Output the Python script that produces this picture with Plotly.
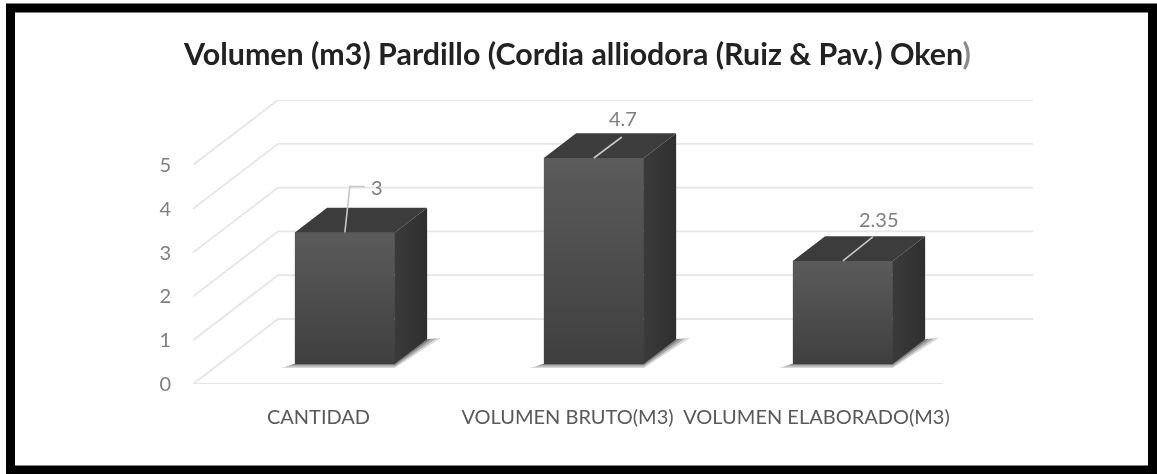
import plotly.graph_objects as go

# ---- data ----
categories = ["CANTIDAD", "VOLUMEN BRUTO(M3)", "VOLUMEN ELABORADO(M3)"]
values = [3, 4.7, 2.35]
value_labels = ["3", "4.7", "2.35"]
y_ticks = [0, 1, 2, 3, 4, 5]
title_text = "Volumen (m3) Pardillo (Cordia alliodora (Ruiz &amp; Pav.) Oken<span style='color:#8a8a8a'>)</span>"

# ---- geometry of the oblique projection (axis units) ----
W, H = 1157, 474
PLOT_L, PLOT_R, PLOT_T, PLOT_B = 193, 1033, 100, 384
PX_CAT = 249.0      # pixels per category
PX_VAL = 43.8       # pixels per value unit
CAT0_PX = 318.5
DEPTH_X = 85 / PX_CAT   # floor depth in category units
DEPTH_Y = 65 / PX_VAL   # floor depth in value units
BAR_W = 100 / PX_CAT
D_FRONT, D_BACK = 0.31, 0.69


def proj(x, v, d):
    return x + d * DEPTH_X, v + d * DEPTH_Y


def dx(p):
    return p / PX_CAT


def dy(p):
    return p / PX_VAL


x_min = -(CAT0_PX - PLOT_L) / PX_CAT
x_max = x_min + (PLOT_R - PLOT_L) / PX_CAT
y_max = (PLOT_B - PLOT_T) / PX_VAL
x_floor_end = x_min + (943 - PLOT_L) / PX_CAT

fig = go.Figure()
GRID = "#e6e6e6"


def poly(points, **kw):
    xs = [p[0] for p in points] + [points[0][0]]
    ys = [p[1] for p in points] + [points[0][1]]
    fig.add_trace(go.Scatter(x=xs, y=ys, mode="lines", fill="toself", line=dict(width=0),
                             hoverinfo="skip", showlegend=False, **kw))


# wall + floor gridlines
for t in y_ticks:
    x0, v0 = proj(x_min, t, 0)
    x1, v1 = proj(x_min, t, 1)
    fig.add_trace(go.Scatter(x=[x0, x1, x_max], y=[v0, v1, v1], mode="lines",
                             line=dict(color=GRID, width=1.8), hoverinfo="skip", showlegend=False))
fig.add_trace(go.Scatter(x=[x_min, x_floor_end], y=[0, 0], mode="lines",
                         line=dict(color=GRID, width=1.8), hoverinfo="skip", showlegend=False))

# soft floor shadows
for i in range(len(categories)):
    l, r = i - BAR_W / 2, i + BAR_W / 2
    for spread, alpha in ((14, 0.18), (9, 0.26), (4, 0.34)):
        p1 = proj(l, 0, D_FRONT)
        p2 = proj(r, 0, D_FRONT)
        p3 = proj(r, 0, D_BACK)
        poly([(p1[0] - dx(spread), p1[1] - dy(spread * 0.3)),
              (p2[0], p2[1] - dy(spread * 0.3)),
              (p3[0] + dx(spread), p3[1] + dy(spread * 0.1)),
              (p3[0], p3[1]), p1],
             fillcolor=f"rgba(40,40,40,{alpha})")

# bars: front faces
front_x = [proj(i, 0, D_FRONT)[0] for i in range(len(categories))]
base_v = proj(0, 0, D_FRONT)[1]
fig.add_trace(go.Bar(x=front_x, y=values, base=[base_v] * len(values), width=BAR_W,
                     marker=dict(color="#4c4c4c", line=dict(width=0)), hoverinfo="skip",
                     showlegend=False))

for i, val in enumerate(values):
    l, r = i - BAR_W / 2, i + BAR_W / 2
    a = proj(l, 0, D_FRONT)
    b = proj(r, 0, D_FRONT)
    c = proj(r, val, D_FRONT)
    e = proj(l, val, D_FRONT)
    # front gradient
    poly([a, b, c, e], fillcolor="#4c4c4c",
         fillgradient=dict(type="vertical",
                           colorscale=[[0, "#3f3f3f"], [1, "#5b5b5b"]],
                           start=a[1], stop=e[1]))
    # side
    f = proj(r, val, D_BACK)
    g = proj(r, 0, D_BACK)
    poly([b, g, f, c], fillcolor="#333333",
         fillgradient=dict(type="horizontal",
                           colorscale=[[0, "#3a3a3a"], [1, "#2f2f2f"]],
                           start=b[0], stop=g[0]))
    # top
    h = proj(l, val, D_BACK)
    poly([e, c, f, h], fillcolor="#3c3c3c")

# leader lines (pixel offsets from front-top centre of each bar) and labels
leader_offsets = [[(0, 0), (5, 46), (8, 46), (20, 46)],
                  [(0, 0), (28, 21)],
                  [(0, 0), (30, 24)]]
label_offsets = [(32, 45), (29, 40), (36, 42)]
for i, val in enumerate(values):
    cx, cy = proj(i, val, D_FRONT)
    fig.add_trace(go.Scatter(x=[cx + dx(o[0]) for o in leader_offsets[i]],
                             y=[cy + dy(o[1]) for o in leader_offsets[i]],
                             mode="lines", line=dict(color="#c6c6c6", width=1.6),
                             hoverinfo="skip", showlegend=False))
    fig.add_annotation(x=cx + dx(label_offsets[i][0]), y=cy + dy(label_offsets[i][1]),
                       text=value_labels[i], showarrow=False,
                       font=dict(family="Lato, Open Sans, sans-serif", size=20, color="#7f7f7f"),
                       xanchor="center", yanchor="middle")

# frame
fig.add_shape(type="rect", xref="paper", yref="paper", layer="above",
              x0=-(PLOT_L - 10.5) / (PLOT_R - PLOT_L), x1=(1152.5 - PLOT_L) / (PLOT_R - PLOT_L),
              y0=-(470 - PLOT_B) / (PLOT_B - PLOT_T), y1=(PLOT_B - 8) / (PLOT_B - PLOT_T),
              line=dict(color="#000000", width=9), fillcolor="rgba(0,0,0,0)")

fig.update_layout(
    width=W, height=H, autosize=False,
    margin=dict(l=PLOT_L, r=W - PLOT_R, t=PLOT_T, b=H - PLOT_B, pad=0),
    paper_bgcolor="#ffffff", plot_bgcolor="#ffffff",
    showlegend=False, bargap=0,
    title=dict(text=title_text, x=577.5 / W, xanchor="center", y=1 - 54 / H, yanchor="middle",
               font=dict(family="Lato, sans-serif", size=30.4, color="#222222", weight="bold")),
    xaxis=dict(range=[x_min, x_max], tickmode="array", tickvals=list(range(len(categories))),
               ticktext=categories, tickangle=0, showgrid=False, zeroline=False, showline=False,
               ticks="outside", ticklen=15, tickcolor="rgba(0,0,0,0)",
               tickfont=dict(family="Lato, sans-serif", size=20, color="#595959")),
    yaxis=dict(range=[0, y_max], tickmode="array", tickvals=y_ticks,
               showgrid=False, zeroline=False, showline=False,
               ticks="outside", ticklen=17, tickcolor="rgba(0,0,0,0)",
               tickfont=dict(family="Lato, sans-serif", size=20, color="#7f7f7f")),
)

fig.write_html("out.html", config={"displayModeBar": False},
               post_script="document.body.style.margin='0';document.documentElement.style.overflow='hidden';"
                           "document.querySelector('.js-plotly-plot').style.filter='blur(0.6px)';")
